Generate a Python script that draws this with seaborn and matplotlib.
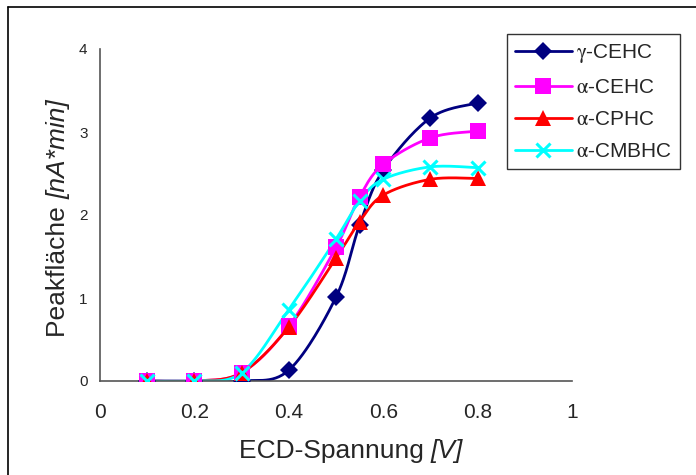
import numpy as np
import pandas as pd
import matplotlib
matplotlib.use("Agg")
import matplotlib.pyplot as plt
import seaborn as sns
from matplotlib.lines import Line2D

sns.set_style("white")
plt.rcParams['font.family'] = ['Liberation Sans', 'DejaVu Sans']
plt.rcParams['mathtext.fontset'] = 'stix'

# ---- data ----
voltage = [0.1, 0.2, 0.3, 0.4, 0.5, 0.55, 0.6, 0.7, 0.8]
series_names = ["γ-CEHC", "α-CEHC", "α-CPHC", "α-CMBHC"]
legend_labels = [r"$\mathrm{\gamma}$-CEHC", r"$\mathrm{\alpha}$-CEHC",
                 r"$\mathrm{\alpha}$-CPHC", r"$\mathrm{\alpha}$-CMBHC"]
gamma_cehc = [0.0, 0.0, 0.0, 0.13, 1.01, 1.88, 2.54, 3.17, 3.35]
alpha_cehc = [0.0, 0.0, 0.1, 0.66, 1.61, 2.22, 2.61, 2.93, 3.01]
alpha_cphc = [0.0, 0.0, 0.1, 0.65, 1.48, 1.92, 2.24, 2.43, 2.44]
alpha_cmbhc = [0.0, 0.0, 0.1, 0.86, 1.71, 2.17, 2.43, 2.58, 2.57]
x_ticks = [0, 0.2, 0.4, 0.6, 0.8, 1]
x_tick_labels = ["0", "0.2", "0.4", "0.6", "0.8", "1"]
y_ticks = [0, 1, 2, 3, 4]
x_label = ("ECD-Spannung ", "[V]")
y_label = ("Peakfläche ", "[nA*min]")

values = [gamma_cehc, alpha_cehc, alpha_cphc, alpha_cmbhc]
colors = ["#000080", "#FF00FF", "#FF0000", "#00FFFF"]
markers = ["D", "s", "^", "x"]
msizes = [9, 11, 11, 10]


def smooth(xs, ys, n=30):
    """Bezier smoothing through the points (like Excel's smoothed line)."""
    pts = np.column_stack([xs, ys]).astype(float)
    P = np.vstack([pts[0], pts, pts[-1]])
    out = []
    for i in range(1, len(P) - 2):
        p0, p1, p2, p3 = P[i - 1], P[i], P[i + 1], P[i + 2]
        c1 = p1 + (p2 - p0) / 6.0
        c2 = p2 - (p3 - p1) / 6.0
        t = np.linspace(0, 1, n)[:, None]
        seg = ((1 - t) ** 3) * p1 + 3 * ((1 - t) ** 2) * t * c1 + 3 * (1 - t) * t ** 2 * c2 + t ** 3 * p2
        out.append(seg if i == 1 else seg[1:])
    out = np.vstack(out)
    return out[:, 0], out[:, 1]


W, H = 696, 475
fig = plt.figure(figsize=(6.96, 4.75), dpi=100)
ax = fig.add_axes([100 / W, 94 / H, 472 / W, 332 / H])

handles = []
for name, vals, c, m, ms in zip(series_names, values, colors, markers, msizes):
    sx, sy = smooth(voltage, vals)
    sm = pd.DataFrame({"x": sx, "y": sy})
    sns.lineplot(data=sm, x="x", y="y", ax=ax, color=c, lw=2.0, sort=False,
                 estimator=None, legend=False)
    df = pd.DataFrame({"x": voltage, "y": vals})
    if m == "x":
        ax.plot(df.x, df.y, ls="none", marker=m, ms=ms, mew=2.2, color=c, zorder=3)
    else:
        ax.plot(df.x, df.y, ls="none", marker=m, ms=ms, mew=0, color=c, zorder=3)
    handles.append(Line2D([], [], color=c, lw=2.0, marker=m, ms=ms,
                          mew=(2.2 if m == "x" else 0)))

ax.set_xlim(0, 1)
ax.set_ylim(0, 4)
ax.set_xticks(x_ticks)
ax.set_xticklabels(x_tick_labels, fontsize=15)
ax.set_yticks(y_ticks)
ax.set_yticklabels([str(v) for v in y_ticks], fontsize=11)
ax.tick_params(axis="x", direction="out", length=6, width=1, color="black", pad=10)
ax.tick_params(axis="y", direction="out", length=5, width=1, color="black", pad=4)
for s in ["top", "right"]:
    ax.spines[s].set_visible(False)
for s in ["left", "bottom"]:
    ax.spines[s].set_color("#555555")
    ax.spines[s].set_linewidth(1.2)
ax.grid(False)
ax.set_xlabel("")
ax.set_ylabel("")
for lab in ax.get_xticklabels() + ax.get_yticklabels():
    lab.set_clip_on(False)

renderer = fig.canvas.get_renderer()

# x label: regular part + italic part, centred as a whole
fs = 19
a = fig.text(0, 1 - 451 / H, x_label[0], ha="left", va="center", fontsize=fs)
b = fig.text(0, 1 - 451 / H, x_label[1], ha="left", va="center", fontsize=fs, style="italic")
wa = a.get_window_extent(renderer).width
wb = b.get_window_extent(renderer).width
x0 = 351 - (wa + wb) / 2
a.set_x(x0 / W)
b.set_x((x0 + wa) / W)

# y label: rotated, regular part + italic part
c1 = fig.text(58 / W, 0, y_label[0], ha="center", va="bottom", rotation=90, fontsize=fs)
c2 = fig.text(58 / W, 0, y_label[1], ha="center", va="bottom", rotation=90, fontsize=fs,
              style="italic")
ha_ = c1.get_window_extent(renderer).height
hb_ = c2.get_window_extent(renderer).height
yc = H - 218
y0 = yc - (ha_ + hb_) / 2
c1.set_y(y0 / H)
c2.set_y((y0 + ha_) / H)

leg = ax.legend(handles, legend_labels, loc="upper left",
                bbox_to_anchor=(507 / W, 1 - 34 / H), bbox_transform=fig.transFigure,
                fontsize=15, frameon=True, fancybox=False, handlelength=2.7,
                borderpad=0.4, labelspacing=0.62, handletextpad=0.2, borderaxespad=0)
leg.get_frame().set_edgecolor("black")
leg.get_frame().set_linewidth(1.0)

# outer chart border (left and top visible)
fig.add_artist(Line2D([8 / W, 8 / W], [0, 1 - 7 / H], color="black", lw=1.2,
                      transform=fig.transFigure))
fig.add_artist(Line2D([8 / W, 1], [1 - 7 / H, 1 - 7 / H], color="black", lw=1.2,
                      transform=fig.transFigure))

fig.savefig("out.png", dpi=100)
